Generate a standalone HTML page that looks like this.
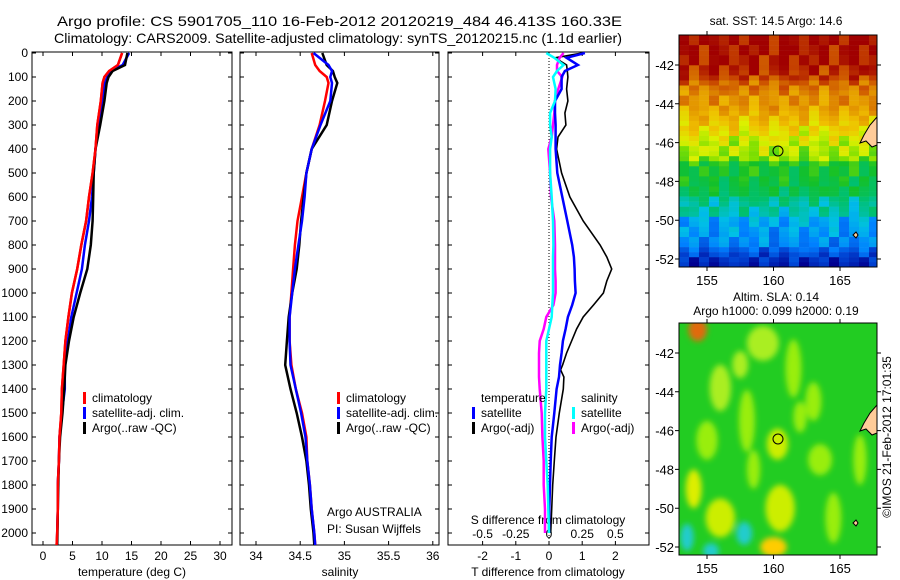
<!DOCTYPE html>
<html><head><meta charset="utf-8"><style>
html,body{margin:0;padding:0;background:#fff;}
svg{display:block;font-family:"Liberation Sans",sans-serif;}
text{font-size:12px;fill:#000;}
</style></head><body>
<svg id="c" width="900" height="580" viewBox="0 0 900 580" xmlns="http://www.w3.org/2000/svg">
<defs>
<clipPath id="cp1"><rect x="32" y="52" width="200" height="493"/></clipPath>
<clipPath id="cp2"><rect x="240" y="52" width="199" height="493"/></clipPath>
<clipPath id="cp3"><rect x="448" y="52" width="201" height="493"/></clipPath>
<clipPath id="cm1"><rect x="679" y="35" width="198" height="232"/></clipPath>
<clipPath id="cm2"><rect x="679" y="323" width="198" height="232"/></clipPath>
<filter id="bl" x="-50%" y="-50%" width="200%" height="200%"><feGaussianBlur stdDeviation="3"/></filter>
</defs>
<text x="57" y="26" style="font-size:14px" textLength="565" lengthAdjust="spacingAndGlyphs">Argo profile: CS 5901705_110 16-Feb-2012 20120219_484 46.413S 160.33E</text>
<text x="54" y="43" style="font-size:14px" textLength="568" lengthAdjust="spacingAndGlyphs">Climatology: CARS2009. Satellite-adjusted climatology: synTS_20120215.nc (1.1d earlier)</text>
<g id="g"></g>
</svg>
<script>
// ---- data ----
const depths = [0,50,75,100,125,200,300,400,500,600,700,800,900,1000,1100,1200,1300,1400,1500,1600,1700,1800,1900,2000,2050];
const tempClim = [13.4,12.7,11.2,10.4,10.1,9.8,9.2,8.9,8.4,7.8,7.3,6.5,5.8,4.9,4.3,3.8,3.5,3.2,3.1,2.8,2.7,2.5,2.5,2.4,2.3];
const tempSat  = [14.6,13.5,11.5,10.9,10.5,10.0,9.4,8.9,8.6,8.3,7.8,7.1,6.6,5.7,4.8,4.2,3.7,3.7,3.2,2.8,2.7,2.5,2.5,2.4,2.4];
const tempArgo = [14.3,13.9,11.8,11.1,10.8,10.4,9.7,8.9,8.6,8.5,8.4,8.1,7.5,6.3,5.2,4.4,3.8,3.6,3.3,2.9,2.7,2.6,2.5,2.45,2.4];
const salClim = [34.63,34.67,34.72,34.80,34.82,34.78,34.72,34.63,34.57,34.52,34.47,34.44,34.42,34.40,34.38,34.38,34.40,34.45,34.52,34.57,34.58,34.61,34.63,34.66,34.67];
const salSat  = [34.65,34.82,34.86,34.84,34.86,34.84,34.73,34.63,34.57,34.55,34.52,34.48,34.44,34.41,34.38,34.38,34.39,34.45,34.51,34.56,34.58,34.61,34.63,34.66,34.67];
const salArgo = [34.75,34.80,34.87,34.89,34.92,34.86,34.80,34.63,34.57,34.54,34.51,34.49,34.46,34.41,34.37,34.35,34.33,34.39,34.46,34.52,34.57,34.60,34.62,34.65,34.66];
const dDepths = [0,20,50,75,100,150,200,250,300,350,400,500,600,700,800,850,900,950,1000,1050,1100,1150,1200,1250,1300,1320,1350,1400,1500,1600,1700,1800,1900,2000];
const dTsat  = [1.08,0.53,0.87,0.48,0.38,0.38,0.18,0.18,0.2,0.2,0.2,0.25,0.4,0.55,0.7,0.75,0.77,0.78,0.8,0.7,0.57,0.5,0.42,0.38,0.33,0.32,0.3,0.23,0.16,0.08,0.05,0.03,0.01,0.0];
const dTargo = [1.0,0.18,0.53,0.55,0.57,0.53,0.57,0.48,0.51,0.27,0.23,0.38,0.63,1.03,1.54,1.74,1.89,1.74,1.64,1.34,1.03,0.83,0.68,0.53,0.41,0.35,0.45,0.43,0.31,0.21,0.16,0.11,0.08,0.05];
const dSsat  = [-0.02,0.04,0.11,0.06,0.03,0.05,0.045,0.008,0.008,0.02,0.008,0.008,0.02,0.03,0.033,0.03,0.03,0.03,0.03,0.025,0.02,0.0,-0.02,-0.02,-0.02,-0.02,-0.02,-0.02,-0.03,-0.03,-0.02,-0.01,-0.005,0.0];
const dSargo = [0.11,0.08,0.06,0.06,0.1,0.07,0.045,0.04,0.03,0.02,-0.005,0.008,0.015,0.04,0.045,0.045,0.045,0.05,0.05,0.033,-0.02,-0.04,-0.07,-0.075,-0.075,-0.075,-0.075,-0.07,-0.055,-0.05,-0.04,-0.04,-0.03,-0.03];
const depthTicks = [0,100,200,300,400,500,600,700,800,900,1000,1100,1200,1300,1400,1500,1600,1700,1800,1900,2000];
const tempTicks = [0,5,10,15,20,25,30];
const salTicks = [34,34.5,35,35.5,36];
const dTTicks = [-2,-1,0,1,2];
const dSTicks = [-0.5,-0.25,0,0.25,0.5];
const latTicks = [-42,-44,-46,-48,-50,-52];
const lonTicks = [155,160,165];
// SST map: band value per row (top to bottom), column perturbation
const sstRows = [0.96,0.96,0.95,0.95,0.94,0.94,0.93,0.92,0.9,0.86,0.84,0.82,0.8,0.8,0.78,0.76,0.74,0.72,0.7,0.68,0.66,0.64,0.63,0.62,0.6,0.52,0.5,0.5,0.49,0.48,0.47,0.46,0.4,0.38,0.37,0.36,0.3,0.29,0.28,0.27,0.26,0.25,0.2,0.16,0.12,0.1];
const sstNoise = [0.02,-0.03,0.04,0,-0.02,0.05,-0.04,0.01,0.03,-0.05,0.02,0,-0.03,0.04,-0.01,0.03,-0.04,0.02,0.05,-0.02,0,0.03,-0.05,0.01,0.04,-0.03,0.02,-0.01,0.05,-0.04,0.01,0.03,-0.02,0,0.04,-0.05,0.02,-0.03,0.01,0.03];
// SLA map blobs: lon, lat, rx(deg), ry(deg), colour
const blobLon = [154.3,156,157.5,159.2,161.5,163,155,158,160.3,163.5,156,160.5,164.5,154,153.5,155.3,157.8,160,166.5,158.5,162];
const blobLat = [-40.8,-43.8,-42.6,-41.5,-42.8,-44.5,-46.5,-45.5,-46.7,-47.5,-50.5,-50,-50.5,-49,-51.5,-52.2,-51.3,-52,-47.5,-48,-45.3];
const blobRx  = [0.7,0.8,0.6,1.2,0.6,0.6,0.8,0.6,0.8,0.9,1.1,1.1,0.6,0.6,0.5,0.6,0.6,1.0,0.5,0.5,0.5];
const blobRy  = [0.6,1.2,0.7,0.9,1.5,1.0,1.0,1.6,0.8,0.8,1.0,1.2,1.3,1.0,0.7,0.4,0.6,0.5,1.3,1.0,0.8];
const blobCol = ['#e06a10','#aaee22','#aaee22','#aaee22','#99ee11','#99ee11','#99ee11','#99ee11','#ccee00','#99ee11','#ccee00','#ccee00','#99ee11','#ddee00','#22cccc','#22cccc','#22cccc','#ffcc00','#99ee11','#99ee11','#99ee11'];

const NS='http://www.w3.org/2000/svg';
const G=document.getElementById('g');
function el(tag,attrs,parent){const e=document.createElementNS(NS,tag);for(const k in attrs)e.setAttribute(k,attrs[k]);(parent||G).appendChild(e);return e;}
function txt(x,y,s,anchor,parent,size){const t=el('text',{x:x,y:y,'text-anchor':anchor||'start'},parent);if(size)t.style.fontSize=size+'px';t.textContent=s;return t;}
const yD=d=>53+d*0.24;
const xT=v=>43+v*5.9;
const xS=v=>256+(v-34)*88.4;
const xDT=v=>549+v*33.2;
const xDS=v=>549+v*132.8;

const panels=[[32,200,'cp1'],[240,199,'cp2'],[448,201,'cp3']];
panels.forEach((p,i)=>{
  const r=el('rect',{x:p[0],y:52,width:p[1],height:493,fill:'none',stroke:'#000','stroke-width':1});
  
  
  depthTicks.forEach(d=>{
    const tk=el('path',{d:`M${p[0]} ${yD(d)}h4M${p[0]+p[1]} ${yD(d)}h-4`,stroke:'#000'});
    
    
  });
});
depthTicks.forEach(d=>{
  const t=txt(28,yD(d)+4,String(d),'end');
  
  
});
function xAxis(ticks,fx,y){
  ticks.forEach(v=>{
    const tk=el('path',{d:`M${fx(v)} 52v4M${fx(v)} 545v-4`,stroke:'#000'});
    
    
    const t=txt(fx(v),y,String(v),'middle');
    
    
  });
}
xAxis(tempTicks,xT,560);
xAxis(salTicks,xS,560);
xAxis(dTTicks,xDT,560);
dSTicks.forEach(v=>{
  const t=txt(xDS(v),538,String(v),'middle');
  
  
});
let a=txt(132,576,'temperature (deg C)','middle');
a=txt(340,576,'salinity','middle');
a=txt(548,576,'T difference from climatology','middle');
a=txt(548,524,'S difference from climatology','middle');
a=txt(327,516,'Argo AUSTRALIA');
a=txt(327,533,'PI: Susan Wijffels');

const zl=el('line',{x1:549,y1:52,x2:549,y2:545,stroke:'#000','stroke-dasharray':'1,2'});



function series(ds,vals,fx,col,w,clip,name){
  const pts=ds.map((d,i)=>fx(vals[i]).toFixed(1)+','+yD(d).toFixed(1)).join(' ');
  const pl=el('polyline',{points:pts,fill:'none',stroke:col,'stroke-width':w,'clip-path':'url(#'+clip+')','stroke-linejoin':'miter'});
  
  
}
series(depths,tempClim,xT,'#ff0000',2.5,'cp1','temp-climatology-line');
series(depths,tempSat,xT,'#0000ff',2.5,'cp1','temp-satellite-line');
series(depths,tempArgo,xT,'#000',2.5,'cp1','temp-argo-line');
series(depths,tempClim,xT,'#ff0000',2.5,'cp1','temp-climatology-line-top');
series(depths,salClim,xS,'#ff0000',2.5,'cp2','sal-climatology-line');
series(depths,salArgo,xS,'#000',2.5,'cp2','sal-argo-line');
series(depths,salSat,xS,'#0000ff',2.5,'cp2','sal-satellite-line');
series(dDepths,dTargo,xDT,'#000',1.6,'cp3','tdiff-argo-line');
series(dDepths,dSargo,xDS,'#ff00ff',2.5,'cp3','sdiff-argo-line');
series(dDepths,dTsat,xDT,'#0000ff',2.5,'cp3','tdiff-satellite-line');
series(dDepths,dSsat,xDS,'#00ffff',2.5,'cp3','sdiff-satellite-line');

function legend(x,y,col,label){
  const m=el('rect',{x:x,y:y-10,width:3,height:12,fill:col});
  
  
  const t=txt(x+9,y,label);
  
  
}
legend(83,402,'#ff0000','climatology');legend(83,417,'#0000ff','satellite-adj. clim.');legend(83,432,'#000','Argo(..raw -QC)');
legend(337,402,'#ff0000','climatology');legend(337,417,'#0000ff','satellite-adj. clim.');legend(337,432,'#000','Argo(..raw -QC)');
a=txt(481,402,'temperature');
a=txt(581,402,'salinity');
legend(472,417,'#0000ff','satellite');legend(472,432,'#000','Argo(-adj)');
legend(572,417,'#00ffff','satellite');legend(572,432,'#ff00ff','Argo(-adj)');

// ---- maps ----
const cmapStops=[[0.05,[0,0,144]],[0.15,[0,64,208]],[0.25,[0,128,255]],[0.33,[0,192,230]],[0.42,[0,192,112]],[0.52,[20,192,40]],[0.6,[128,224,0]],[0.66,[220,240,0]],[0.73,[240,192,0]],[0.82,[224,140,0]],[0.9,[200,70,0]],[0.97,[160,0,0]]];
function cmap(v){
  if(v<=cmapStops[0][0])return `rgb(${cmapStops[0][1].join(',')})`;
  for(let i=1;i<cmapStops.length;i++){
    if(v<=cmapStops[i][0]){const a=cmapStops[i-1],b=cmapStops[i];const t=(v-a[0])/(b[0]-a[0]);
      return `rgb(${a[1].map((c,k)=>Math.round(c+(b[1][k]-c)*t)).join(',')})`;}
  }
  return `rgb(${cmapStops[cmapStops.length-1][1].join(',')})`;
}
function mapAxes(top,name){
  const lonX=v=>707+(v-155)*13.3;
  const latY=v=>top+30+(-42-v)*19.4;
  const box=el('rect',{x:679,y:top,width:198,height:232,fill:'none',stroke:'#000'});
  
  
  latTicks.forEach(v=>{
    const tk=el('path',{d:`M679 ${latY(v)}h-4M877 ${latY(v)}h4`,stroke:'#000'});
    
    
    const t=txt(674,latY(v)+5,String(v),'end',null,13);
    
    
  });
  lonTicks.forEach(v=>{
    const tk=el('path',{d:`M${lonX(v)} ${top}v-4M${lonX(v)} ${top+232}v4`,stroke:'#000'});
    
    
    const t=txt(lonX(v),top+250,String(v),'middle',null,13);
    
    
  });
  const land=el('path',{d:`M877 ${top+82} L870 ${top+90} L864 ${top+100} L860 ${top+108} L866 ${top+106} L872 ${top+112} L877 ${top+110} Z`,fill:'#ffcc99',stroke:'#000','stroke-width':1});
  
  
  const isl=el('path',{d:`M853 ${top+200} l3 -3 l2 3 l-2 3 z`,fill:'#ffcc99',stroke:'#000'});
  
  
  const c=el('circle',{cx:778,cy:top+116,r:5,fill:'none',stroke:'#000'});
  
  
}
const gm1=el('g',{'clip-path':'url(#cm1)'});


sstRows.forEach((base,r)=>{
  for(let c=0;c<40;c++){
    const v=base+sstNoise[(Math.floor(c/2)+Math.floor(r/2)*7)%40]*1.2;
    const cell=el('rect',{x:679+c*5,y:35+r*5.05,width:5.2,height:5.3,fill:cmap(v)},gm1);
    
    
  }
});
mapAxes(35,'sst-map');
a=txt(776,25,'sat. SST: 14.5  Argo: 14.6','middle');
const gm2=el('g',{'clip-path':'url(#cm2)'});


let bg=el('rect',{x:679,y:323,width:198,height:232,fill:'#22cc22'},gm2);


const gb=el('g',{filter:'url(#bl)'},gm2);
blobLon.forEach((lon,i)=>{
  const e=el('ellipse',{cx:707+(lon-155)*13.3,cy:353+(-42-blobLat[i])*19.4,rx:blobRx[i]*13.3,ry:blobRy[i]*19.4,fill:blobCol[i]},gb);
  
  
});
mapAxes(323,'sla-map');
a=txt(776,301,'Altim. SLA: 0.14','middle');
a=txt(776,315,'Argo h1000: 0.099 h2000: 0.19','middle');
a=txt(0,0,'©IMOS 21-Feb-2012 17:01:35','middle');a.setAttribute('transform','translate(891,437) rotate(-90)');
</script>
</body></html>
